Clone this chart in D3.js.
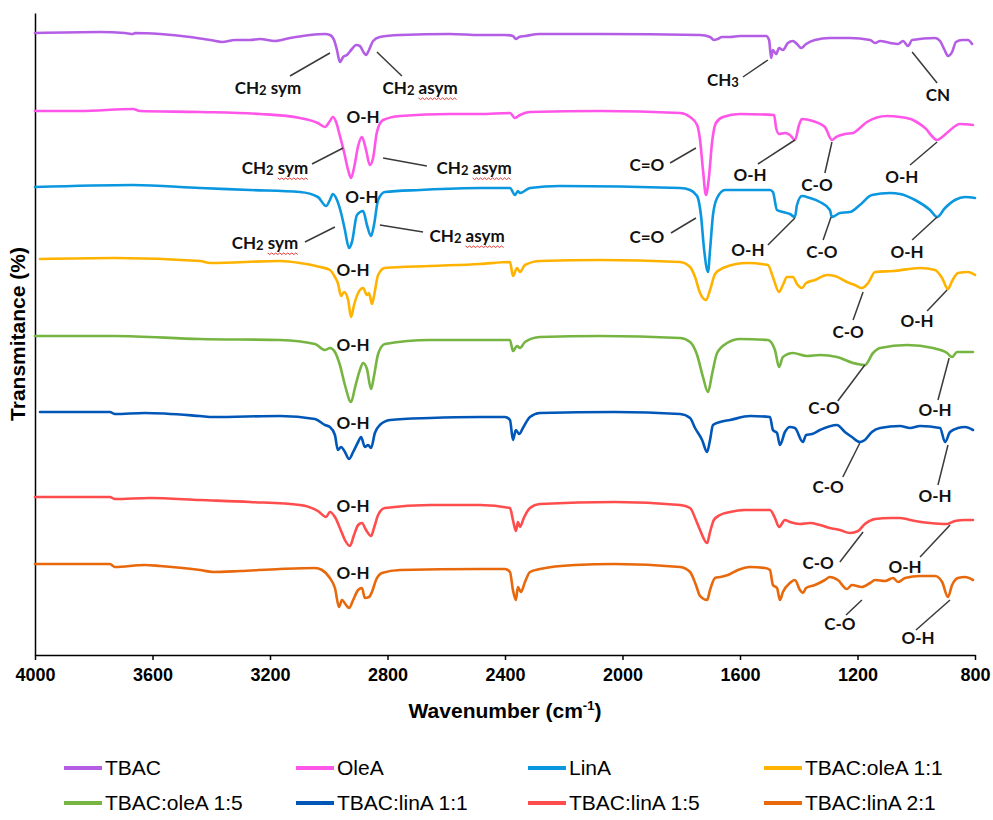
<!DOCTYPE html>
<html>
<head>
<meta charset="utf-8">
<script src="https://cdn.jsdelivr.net/npm/d3@7"></script>
<style>
  body { margin: 0; background: #fff; }
  svg text { font-family: "Liberation Sans", Arial, sans-serif; }
  .lbl { font-family: Lato, "Open Sans", sans-serif; font-weight: 700; font-size: 17px; fill: #111; }
</style>
</head>
<body>
<div id="chart"></div>
<script>
// spectra, [wavenumber cm-1, transmittance with offset (a.u.)]
const tbac = [[4000,595],[3779,596],[3694,595],[3666,594],[3660,595],[3574,594],[3472,591],[3404,588],[3363,586],[3319,588],[3268,588],[3234,589],[3183,587],[3132,590],[3064,593],[3013,594],[2996,593],[2982,588],[2972,578],[2962,566],[2951,571],[2938,573],[2921,579],[2907,583],[2894,582],[2880,575],[2873,573],[2863,578],[2849,587],[2826,591],[2757,593],[2587,594],[2485,593],[2400,593],[2373,592],[2363,589],[2352,591],[2332,592],[2281,594],[2077,594],[1736,593],[1702,591],[1689,588],[1676,589],[1662,591],[1634,591],[1600,592],[1511,592],[1501,588],[1494,570],[1488,578],[1477,574],[1467,580],[1454,578],[1437,585],[1420,587],[1406,584],[1392,580],[1375,584],[1345,588],[1294,590],[1226,590],[1157,588],[1140,585],[1123,587],[1089,585],[1062,584],[1045,587],[1028,582],[1014,588],[936,590],[919,587],[905,579],[892,572],[878,576],[865,586],[844,588],[824,588],[810,584]]

const oleA = [[4000,517],[3847,517],[3666,519],[3643,517],[3438,516],[3234,514],[3098,510],[3037,505],[3013,501],[2996,507],[2986,511],[2975,506],[2962,492],[2948,476],[2934,458],[2924,450],[2914,460],[2900,482],[2887,491],[2873,478],[2860,463],[2849,470],[2836,496],[2815,508],[2757,512],[2587,514],[2485,514],[2383,515],[2366,510],[2349,513],[2315,516],[2077,517],[1804,515],[1770,511],[1746,503],[1736,488],[1726,458],[1716,433],[1706,450],[1695,486],[1682,505],[1658,511],[1600,514],[1484,513],[1477,500],[1467,494],[1447,495],[1430,493],[1413,488],[1399,503],[1389,509],[1352,507],[1311,501],[1287,488],[1273,491],[1243,494],[1215,495],[1192,500],[1168,506],[1100,512],[1055,511],[1011,508],[970,500],[929,488],[912,491],[892,496],[851,504],[807,503]]

const linA = [[4000,441],[3666,443],[3438,440],[3268,438],[3098,436],[3037,431],[3009,422],[2996,428],[2986,434],[2972,428],[2958,415],[2945,398],[2931,380],[2921,386],[2904,413],[2883,417],[2870,403],[2856,392],[2846,403],[2832,428],[2809,436],[2689,438],[2485,440],[2383,440],[2366,433],[2356,437],[2349,435],[2315,440],[2213,442],[1804,440],[1770,438],[1746,432],[1733,413],[1722,378],[1709,356],[1702,378],[1692,413],[1678,430],[1651,438],[1498,438],[1488,436],[1474,418],[1454,416],[1430,414],[1413,411],[1406,423],[1389,432],[1362,430],[1328,426],[1294,418],[1287,411],[1260,415],[1226,416],[1192,423],[1151,433],[1089,435],[1055,434],[1004,428],[953,418],[929,411],[902,420],[868,428],[834,431],[800,430]]

const tbacOleA11 = [[3983,369],[3728,370],[3438,367],[3404,365],[3166,367],[3098,365],[3030,361],[2996,358],[2979,351],[2969,345],[2958,332],[2948,336],[2934,328],[2924,311],[2914,323],[2894,338],[2883,340],[2870,333],[2863,335],[2853,324],[2846,332],[2832,353],[2809,360],[2655,362],[2485,364],[2383,366],[2373,352],[2359,360],[2349,356],[2332,363],[2281,367],[2077,368],[1804,366],[1770,361],[1753,351],[1736,335],[1716,328],[1702,338],[1685,354],[1658,360],[1576,365],[1505,363],[1488,351],[1467,336],[1454,343],[1440,351],[1420,351],[1406,344],[1389,340],[1375,345],[1345,348],[1304,353],[1277,352],[1236,346],[1209,343],[1185,340],[1164,345],[1140,356],[1079,357],[987,360],[936,358],[912,350],[892,339],[878,347],[858,355],[824,356],[800,353]]

const tbacOleA15 = [[4000,292],[3728,292],[3438,289],[3166,288],[3047,284],[3013,278],[2996,280],[2979,276],[2962,263],[2945,243],[2924,226],[2911,240],[2894,258],[2883,265],[2870,259],[2856,239],[2846,252],[2832,274],[2809,284],[2655,288],[2485,288],[2383,288],[2373,277],[2359,282],[2349,280],[2332,286],[2281,291],[2077,292],[1804,290],[1770,286],[1746,273],[1726,251],[1709,236],[1695,254],[1678,275],[1644,285],[1600,289],[1505,288],[1481,278],[1467,261],[1454,271],[1420,275],[1372,272],[1328,273],[1270,271],[1215,265],[1175,263],[1147,275],[1123,280],[1031,283],[943,280],[895,275],[878,271],[861,276],[807,276]]

const tbacLinA11 = [[3983,216],[3745,216],[3728,214],[3626,215],[3438,212],[3394,211],[3166,212],[3047,209],[3013,203],[2996,201],[2979,193],[2969,178],[2958,181],[2945,176],[2931,169],[2917,176],[2900,186],[2890,191],[2877,181],[2866,183],[2856,180],[2843,195],[2826,203],[2791,208],[2655,210],[2485,211],[2400,211],[2383,208],[2373,188],[2363,198],[2352,194],[2339,200],[2315,211],[2281,215],[2026,216],[1804,214],[1770,210],[1753,200],[1729,188],[1712,176],[1702,188],[1692,203],[1668,206],[1634,208],[1566,212],[1498,211],[1488,198],[1474,195],[1464,183],[1447,196],[1430,201],[1413,200],[1386,186],[1375,193],[1355,194],[1328,198],[1270,203],[1243,196],[1219,191],[1192,186],[1175,188],[1151,196],[1123,200],[1055,202],[1021,200],[987,202],[919,200],[902,186],[885,196],[858,200],[834,201],[807,198]]

const tbacLinA15 = [[4000,131],[3745,131],[3728,129],[3609,130],[3438,128],[3268,126],[3098,123],[3037,117],[3009,111],[2996,116],[2979,111],[2958,97],[2945,88],[2928,82],[2914,93],[2900,103],[2887,105],[2873,98],[2856,92],[2846,100],[2832,113],[2809,120],[2655,123],[2485,123],[2383,120],[2373,108],[2363,97],[2356,106],[2349,101],[2336,110],[2315,120],[2281,124],[2026,126],[1804,123],[1770,120],[1750,108],[1736,98],[1712,85],[1702,96],[1689,108],[1668,113],[1634,116],[1583,118],[1498,118],[1481,110],[1467,101],[1447,108],[1430,106],[1396,104],[1362,105],[1328,103],[1294,100],[1260,98],[1226,95],[1198,97],[1175,104],[1140,109],[1089,110],[1055,110],[1004,107],[953,105],[895,104],[868,107],[834,108],[807,108]]

const tbacLinA21 = [[4000,64],[3745,64],[3728,61],[3626,63],[3574,62],[3438,58],[3394,56],[3302,57],[3166,59],[3047,60],[3023,58],[2996,50],[2979,40],[2965,21],[2955,28],[2941,23],[2931,20],[2917,28],[2900,38],[2887,40],[2877,30],[2863,31],[2853,36],[2839,48],[2819,55],[2757,58],[2485,59],[2400,59],[2383,56],[2373,38],[2363,28],[2356,41],[2346,36],[2332,46],[2315,56],[2281,59],[2162,63],[2026,64],[1804,61],[1770,56],[1750,43],[1736,32],[1712,28],[1702,38],[1685,50],[1668,51],[1641,53],[1607,58],[1566,61],[1515,60],[1498,58],[1488,43],[1474,40],[1464,28],[1454,36],[1430,45],[1413,48],[1396,38],[1386,35],[1375,40],[1345,43],[1311,48],[1294,51],[1267,48],[1236,39],[1219,43],[1185,41],[1157,45],[1140,48],[1106,47],[1079,50],[1062,46],[1038,50],[987,52],[936,52],[912,46],[892,31],[878,43],[858,50],[834,51],[807,48]]

const seriesNames = ["TBAC", "OleA", "LinA", "TBAC:oleA 1:1", "TBAC:oleA 1:5", "TBAC:linA 1:1", "TBAC:linA 1:5", "TBAC:linA 2:1"]
const seriesData = [tbac, oleA, linA, tbacOleA11, tbacOleA15, tbacLinA11, tbacLinA15, tbacLinA21]
const colors = ["#b45ee6", "#ff55e8", "#0a97e0", "#ffb300", "#77b543", "#0057b8", "#ff4d4d", "#e8680c"]
const xTicks = [4000, 3600, 3200, 2800, 2400, 2000, 1600, 1200, 800]

// peak labels: text, label centre, leader line (all in data units)
const annotations = [
  {text: "CH2 sym", at: [3207, 540], from: [3132, 552], to: [2996, 575]},
  {text: "CH2 asym", at: [2689, 540], from: [2836, 576], to: [2751, 552], wavy: "asym"},
  {text: "CH3", at: [1658, 548], from: [1590, 551], to: [1505, 568]},
  {text: "CN", at: [926, 533], from: [1014, 576], to: [929, 545]},
  {text: "O-H", at: [2883, 511]},
  {text: "CH2 sym", at: [3183, 460], from: [3057, 464], to: [2951, 480], wavy: "sym"},
  {text: "CH2 asym", at: [2505, 460], from: [2815, 470], to: [2666, 462], wavy: "asym"},
  {text: "C=O", at: [1917, 463], from: [1838, 465], to: [1750, 480]},
  {text: "O-H", at: [1566, 453], from: [1539, 464], to: [1413, 488]},
  {text: "C-O", at: [1338, 443], from: [1311, 455], to: [1287, 486]},
  {text: "O-H", at: [1049, 451], from: [1021, 463], to: [929, 486]},
  {text: "O-H", at: [2887, 431]},
  {text: "CH2 sym", at: [3217, 385], from: [3081, 386], to: [2979, 401], wavy: "sym"},
  {text: "CH2 asym", at: [2529, 392], from: [2826, 403], to: [2679, 396], wavy: "asym"},
  {text: "C=O", at: [1917, 391], from: [1835, 395], to: [1750, 410]},
  {text: "O-H", at: [1573, 378], from: [1505, 383], to: [1413, 410]},
  {text: "C-O", at: [1321, 376], from: [1317, 388], to: [1290, 411]},
  {text: "O-H", at: [1031, 376], from: [1014, 388], to: [929, 411]},
  {text: "O-H", at: [2917, 358]},
  {text: "C-O", at: [1232, 296], from: [1215, 308], to: [1181, 336]},
  {text: "O-H", at: [997, 307], from: [963, 317], to: [895, 338]},
  {text: "O-H", at: [2917, 283]},
  {text: "C-O", at: [1314, 220], from: [1267, 227], to: [1175, 263]},
  {text: "O-H", at: [936, 218], from: [926, 228], to: [888, 270]},
  {text: "O-H", at: [2917, 205]},
  {text: "C-O", at: [1300, 141], from: [1250, 151], to: [1192, 185]},
  {text: "O-H", at: [936, 132], from: [926, 143], to: [892, 183]},
  {text: "O-H", at: [2917, 122]},
  {text: "C-O", at: [1334, 65], from: [1260, 66], to: [1181, 96]},
  {text: "O-H", at: [1038, 61], from: [987, 71], to: [885, 103]},
  {text: "O-H", at: [2917, 55]},
  {text: "C-O", at: [1260, 4], from: [1239, 13], to: [1185, 28]},
  {text: "O-H", at: [994, -10], from: [1001, -2], to: [885, 28]}
]

const MARGIN = { LEFT: 35, TOP: 13 }
const WIDTH = 940
const HEIGHT = 642

const svg = d3.select("#chart").append("svg")
  .attr("width", 993)
  .attr("height", 820)

const g = svg.append("g")
  .attr("transform", `translate(${MARGIN.LEFT}, ${MARGIN.TOP})`)

const x = d3.scaleLinear().domain([4000, 800]).range([0, WIDTH])
const y = d3.scaleLinear().domain([-27, 615]).range([HEIGHT, 0])

// axes
const xAxisCall = d3.axisBottom(x)
  .tickValues(xTicks)
  .tickSize(5)
  .tickSizeOuter(0)
  .tickPadding(8)
  .tickFormat(d3.format("d"))
const xAxis = g.append("g")
  .attr("class", "x axis")
  .attr("transform", `translate(0, ${HEIGHT})`)
  .call(xAxisCall)
xAxis.select(".domain").attr("stroke-width", 1.5)
xAxis.selectAll(".tick line").attr("stroke-width", 1.5)
xAxis.selectAll("text")
  .attr("font-size", "18px")
  .attr("font-weight", "bold")
  .attr("font-family", "Liberation Sans, Arial, sans-serif")
  .attr("fill", "#000")

const yAxis = g.append("g")
  .attr("class", "y axis")
  .call(d3.axisLeft(y).tickValues([]).tickSizeOuter(0))
yAxis.select(".domain").attr("stroke-width", 1.5)

// axis titles
const xTitle = g.append("text")
  .attr("x", WIDTH / 2)
  .attr("y", HEIGHT + 63)
  .attr("text-anchor", "middle")
  .attr("font-size", "21px")
  .attr("font-weight", "bold")
xTitle.append("tspan").text("Wavenumber (cm")
xTitle.append("tspan").attr("font-size", "13px").attr("dy", "-8").text("-1")
xTitle.append("tspan").attr("dy", "8").text(")")

g.append("text")
  .attr("transform", `translate(${-17}, ${HEIGHT / 2}) rotate(-90)`)
  .attr("text-anchor", "middle")
  .attr("dy", "0.35em")
  .attr("font-size", "21px")
  .attr("font-weight", "bold")
  .text("Transmitance (%)")

// spectra
const line = d3.line()
  .x(d => x(d[0]))
  .y(d => y(d[1]))
  .curve(d3.curveMonotoneX)

g.selectAll(".spectrum")
  .data(seriesData)
  .enter().append("path")
  .attr("class", "spectrum")
  .attr("d", line)
  .attr("fill", "none")
  .attr("stroke", (d, i) => colors[i])
  .attr("stroke-width", 2.6)
  .attr("stroke-linejoin", "round")
  .attr("stroke-linecap", "round")

// peak labels
const ann = g.append("g").attr("class", "annotations")
annotations.forEach(a => {
  if (a.from) {
    ann.append("line")
      .attr("x1", x(a.from[0])).attr("y1", y(a.from[1]))
      .attr("x2", x(a.to[0])).attr("y2", y(a.to[1]))
      .attr("stroke", "#3a3a3a")
      .attr("stroke-width", 1.5)
  }
  const t = ann.append("text")
    .attr("class", "lbl")
    .attr("x", x(a.at[0]))
    .attr("y", y(a.at[1]))
    .attr("dy", "0.35em")
    .attr("text-anchor", "middle")
  const m = a.text.match(/^CH(\d)(.*)$/)
  if (m) {
    t.append("tspan").text("CH")
    t.append("tspan").attr("font-size", "13px").attr("dy", "1").text(m[1])
    if (m[2]) t.append("tspan").attr("dy", "-1").text(m[2])
  } else {
    t.text(a.text)
  }
  if (a.wavy) {
    const node = t.node()
    const idx = a.text.lastIndexOf(a.wavy)
    const p0 = node.getStartPositionOfChar(idx)
    const p1 = node.getEndPositionOfChar(idx + a.wavy.length - 1)
    const yy = p0.y + 4
    let d = `M${p0.x},${yy}`
    let k = 0
    for (let xx = p0.x + 2; xx <= p1.x; xx += 2) {
      k++
      d += `L${xx},${yy + (k % 2 ? 1.6 : 0)}`
    }
    ann.append("path")
      .attr("d", d)
      .attr("fill", "none")
      .attr("stroke", "#e53935")
      .attr("stroke-width", 1)
  }
})

// legend
const legendX = [64, 296, 528, 764]
const legendY = [768, 803]
const legend = svg.append("g").attr("class", "legend")
seriesNames.forEach((name, i) => {
  const lx = legendX[i % 4]
  const ly = legendY[Math.floor(i / 4)]
  legend.append("line")
    .attr("x1", lx).attr("x2", lx + 38)
    .attr("y1", ly).attr("y2", ly)
    .attr("stroke", colors[i])
    .attr("stroke-width", 4)
  legend.append("text")
    .attr("x", lx + 41)
    .attr("y", ly)
    .attr("dy", "0.35em")
    .attr("font-size", "21px")
    .attr("fill", "#000")
    .text(name)
})
</script>
</body>
</html>
